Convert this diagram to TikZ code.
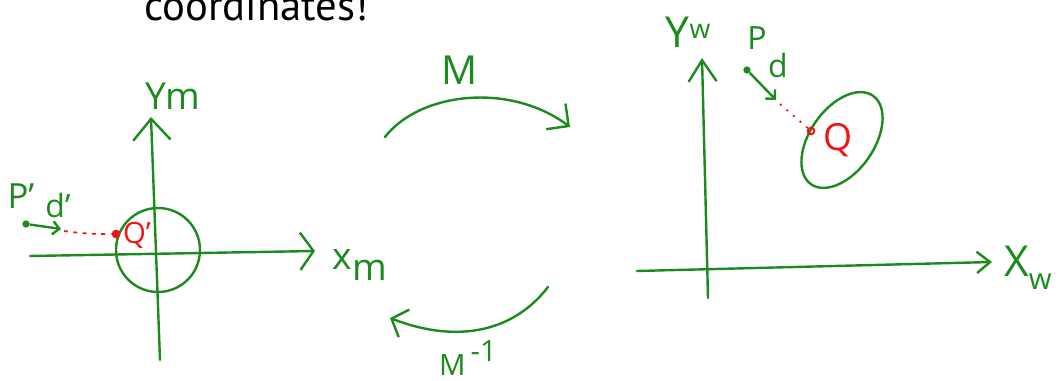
\documentclass[tikz,border=0pt]{standalone}
\usepackage{fontspec}
\setmainfont{Open Sans}
\newfontfamily\titlefont{PT Sans}
\usetikzlibrary{arrows.meta,positioning,shapes.geometric}
\definecolor{ink}{HTML}{1C8A1C}
\definecolor{pen}{HTML}{F01414}
\newcommand{\lowtxt}[1]{\raisebox{-0.3em}{#1}}
\tikzset{
  axis/.style  ={draw=ink,line width=1.8pt,line cap=round},
  curl/.style  ={draw=ink,line width=1.8pt,line cap=round},
  lbl/.style   ={text=ink,inner sep=0pt,font=\fontsize{28}{30}\selectfont},
  rlbl/.style  ={text=pen,inner sep=0pt,font=\fontsize{20}{22}\selectfont},
  pin/.style   ={circle,fill=ink,inner sep=0pt,minimum size=5.5pt},
  rpin/.style  ={circle,fill=pen,inner sep=0pt,minimum size=6.5pt},
  blob/.style  ={draw=ink,line width=1.8pt,inner sep=0pt},
  trace/.style ={draw=pen,line width=1.3pt,dash pattern=on 3pt off 4pt},
  ray/.style   ={-{Straight Barb[length=5pt,width=10pt]},draw=ink,line width=1.8pt}
}
\begin{document}
\begin{tikzpicture}[x=0.75pt,y=-0.75pt]
  \useasboundingbox (0,0) rectangle (1062,381);
  \node[anchor=base west,inner sep=0pt,font=\titlefont\fontsize{32}{34}\selectfont] (title) at (144,21) {coordinates!};

  % model frame
  \coordinate (ymlo) at (160,360); \coordinate (ymhi) at (151,117);
  \coordinate (xmlo) at (30,256);  \coordinate (xmhi) at (315,251);
  \draw[axis,-{Straight Barb[length=16pt,width=28pt]}] (ymlo) -- (ymhi);
  \draw[axis,-{Straight Barb[length=10pt,width=28pt]}] (xmlo) -- (xmhi);
  \node[lbl] (ym) at (173,96) {Ym};
  \node[lbl] (xm) at (360,265) {x\lowtxt{m}};
  \node[blob,circle,minimum size=63pt] (ring) at (158,250) {};
  \node[pin] (pm) at (26,224) {};
  \coordinate (dmtip) at (61,229);
  \node[rpin] (qm) at (116,234) {};
  \draw[ray] (pm) -- (dmtip);
  \draw[trace] (dmtip) ++(3,2) coordinate (dmgo) (dmgo) to[bend right=4] (qm);
  \node[lbl,font=\fontsize{26}{28}\selectfont] (pml) at (21,196) {P'};
  \node[lbl,font=\fontsize{24}{26}\selectfont] (dml) at (58,205) {d'};
  \node[rlbl,font=\fontsize{22}{24}\selectfont] (qml) at (137,235) {Q'};

  % transforms
  \coordinate (fwda) at (385,137); \coordinate (fwdb) at (570,127);
  \draw[curl,-{Straight Barb[length=12pt,width=24pt]}] (fwda) .. controls (420,92) and (510,82) .. (fwdb);
  \node[lbl,font=\fontsize{30}{32}\selectfont] (fwd) at (460,70) {M};
  \coordinate (inva) at (548,287); \coordinate (invb) at (390,318);
  \draw[curl,-{Straight Barb[length=10pt,width=22pt]}] (inva) .. controls (515,330) and (460,345) .. (invb);
  \node[lbl,font=\fontsize{22}{24}\selectfont] (inv) at (468,358) {M\raisebox{0.45em}{\,-1}};

  % world frame
  \coordinate (ywlo) at (708,298); \coordinate (ywhi) at (702,58);
  \coordinate (xwlo) at (637,271); \coordinate (xwhi) at (992,262);
  \draw[axis,-{Straight Barb[length=16pt,width=21pt]}] (ywlo) -- (ywhi);
  \draw[axis,-{Straight Barb[length=10pt,width=16pt]}] (xwlo) -- (xwhi);
  \node[lbl,font=\fontsize{32}{34}\selectfont] (yw) at (688,32) {Y\raisebox{0.2em}{\fontsize{20}{20}\selectfont w}};
  \node[lbl,font=\fontsize{32}{34}\selectfont,anchor=west] (xw) at (1004,268) {X\lowtxt{\fontsize{22}{22}\selectfont w}};
  \node[blob,ellipse,rotate=55,minimum width=81pt,minimum height=48pt] (obj) at (842,140) {};
  \node[pin] (pw) at (747,70) {};
  \coordinate (dwtip) at (776,100);
  \node[rpin,fill=none,draw=pen,line width=1.5pt,minimum size=5pt] (qw) at (811,131) {};
  \draw[ray] (pw) -- (dwtip);
  \draw[trace,dash pattern=on 1.5pt off 5pt] (dwtip) ++(4,4) coordinate (dwgo) (dwgo) -- (qw);
  \node[lbl,font=\fontsize{24}{26}\selectfont] (pwl) at (757,38) {P};
  \node[lbl,font=\fontsize{24}{26}\selectfont] (dwl) at (778,66) {d};
  \node[rlbl,font=\fontsize{28}{30}\selectfont] (qwl) at (838,140) {Q};
\end{tikzpicture}
\end{document}
